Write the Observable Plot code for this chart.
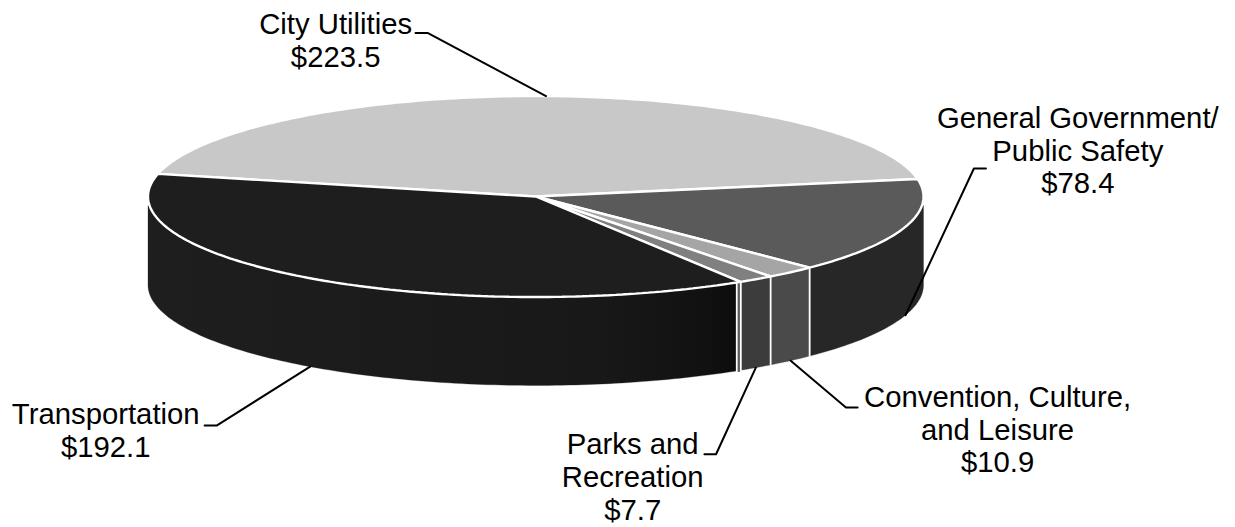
<!DOCTYPE html>
<html>
<head>
<meta charset="utf-8">
<script src="https://cdn.jsdelivr.net/npm/d3@7"></script>
<script src="https://cdn.jsdelivr.net/npm/@observablehq/plot@0.6"></script>
<style>html,body{margin:0;padding:0;background:#fff}svg{display:block}</style>
</head>
<body>
<div id="chart"></div>
<script>
// Data, clockwise from the right-hand edge of City Utilities
const categories = ["General Government/\nPublic Safety", "Convention, Culture,\nand Leisure", "Parks and\nRecreation", "Transportation", "City Utilities"];
const amounts = [78.4, 10.9, 7.7, 192.1, 223.5];
const amountLabels = ["$78.4", "$10.9", "$7.7", "$192.1", "$223.5"];

// Styles
const topColors = ["#5a5a5a", "#a5a5a5", "#808080", "#1e1e1e", "#c8c8c8"];
const sideColors = ["#272727", "#4a4a4a", "#3c3c3c", "url(#transportSide)", null];

// Layout in pie units (radius 1 on each axis; the depth is in y units)
const startAngle = -10, depth = 0.88;
const sideFrom = 5, sideTo = 175, sideLip = 0.09;
const labelX = [1.398, 1.191, 0.250, -1.109, -0.516];
const labelY = [-0.463, 2.313, 2.786, 2.323, -1.562];
const bendX = [1.130, 0.800, 0.465, -0.823, -0.279];
const bendY = [-0.279, 2.100, 2.565, 2.279, -1.627];
const tailX = [1.161, 0.830, 0.435, -0.854, -0.310];
const tailY = [-0.279, 2.100, 2.565, 2.279, -1.627];

const rad = d => d * Math.PI / 180;
const total = d3.sum(amounts);
let running = startAngle;
const slices = amounts.map((v, i) => {
  const a0 = running, a1 = running + v / total * 360;
  running = a1;
  return {i, a0, a1, mid: (a0 + a1) / 2};
});

function arc(a0, a1, dy = 0) {
  const n = Math.max(1, Math.ceil(Math.abs(a1 - a0)));
  return d3.range(n + 1).map(k => {
    const a = a0 + (a1 - a0) * k / n;
    return {x: Math.cos(rad(a)), y: Math.sin(rad(a)) + dy};
  });
}
function topFace(s) {
  const pts = [{x: 0, y: 0}, ...arc(s.a0, s.a1), {x: 0, y: 0}];
  return Plot.line(pts, {x: "x", y: "y", fill: topColors[s.i], stroke: "#fff", strokeWidth: 2.4, strokeLinejoin: "miter"});
}
function sideFace(s) {
  const a0 = Math.max(s.a0, sideFrom), a1 = Math.min(s.a1, sideTo);
  const pts = [...arc(a0, a1)];
  if (s.a1 >= sideTo) pts.push({x: -1, y: sideLip}, {x: -1, y: depth});
  pts.push(...arc(s.a1 >= sideTo ? 180 : a1, s.a0 <= sideFrom ? 0 : a0, depth));
  if (s.a0 <= sideFrom) pts.push({x: 1, y: sideLip});
  pts.push(pts[0]);
  return Plot.line(pts, {x: "x", y: "y", fill: sideColors[s.i], stroke: sideColors[s.i] , strokeWidth: 0.3});
}
function separator(a, stroke = "#fff", strokeWidth = 1.8) {
  const p = Math.cos(rad(a)), q = Math.sin(rad(a));
  return Plot.line([{x: p, y: q}, {x: p, y: q + depth}], {x: "x", y: "y", stroke, strokeWidth});
}

const visibleSides = slices.filter(s => sideColors[s.i]);
const seams = slices.slice(0, 2).map(s => s.a1);
const lastSeam = slices[2].a1;

const leaders = slices.map(s => {
  const onSide = Math.sin(rad(s.mid)) > 0;
  return [
    {x: tailX[s.i], y: tailY[s.i], i: s.i},
    {x: bendX[s.i], y: bendY[s.i], i: s.i},
    {x: Math.cos(rad(s.mid)), y: Math.sin(rad(s.mid)) + (onSide ? depth : 0), i: s.i}
  ];
}).flat();

const labels = slices.map(s => ({
  x: labelX[s.i], y: labelY[s.i],
  text: categories[s.i] + "\n" + amountLabels[s.i]
}));

function gradientDefs() {
  const defs = d3.create("svg:defs");
  const g = defs.append("linearGradient").attr("id", "transportSide");
  [[0, "#1e1e1e"], [0.43, "#1b1b1b"], [0.77, "#181818"], [0.94, "#111111"], [1, "#0c0c0c"]]
    .forEach(([o, c]) => g.append("stop").attr("offset", o).attr("stop-color", c));
  return defs.node();
}

const chart = Plot.plot({
  width: 1235, height: 527,
  margin: 0,
  x: {domain: [-1, 1], range: [147.5, 923], axis: null},
  y: {domain: [-1, 1], range: [95.5, 296.5], axis: null},
  style: {background: "#fff"},
  marks: [
    gradientDefs,
    ...visibleSides.map(sideFace),
    separator(lastSeam + 0.3, "#5a5a5a", 3),
    ...seams.map(a => separator(a)),
    separator(lastSeam - 0.05),
    separator(lastSeam + 0.65),
    topFace(slices[4]), topFace(slices[0]), topFace(slices[1]), topFace(slices[2]), topFace(slices[3]),
    Plot.line(leaders, {x: "x", y: "y", z: "i", stroke: "#000", strokeWidth: 2}),
    Plot.text(labels, {
      x: "x", y: "y", text: "text",
      textAnchor: "middle", lineAnchor: "middle", lineHeight: 1.125,
      fontFamily: "Liberation Sans", fontSize: 29.3, fill: "#000"
    })
  ]
});
document.getElementById("chart").appendChild(chart);
</script>
</body>
</html>
